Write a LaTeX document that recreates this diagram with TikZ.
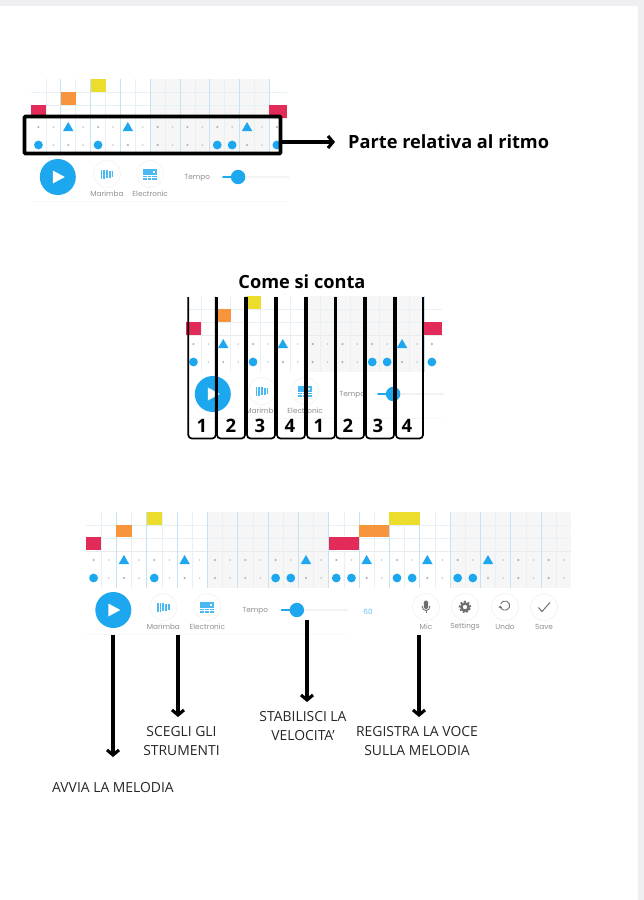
\documentclass[tikz,border=0pt]{standalone}
\usepackage{fontspec}
\setmainfont{Open Sans}
\newfontfamily\appfont{Poppins}
\usetikzlibrary{arrows.meta}
\definecolor{pagegray}{HTML}{EEEEF3}
\definecolor{appblue}{HTML}{1DA7EE}
\definecolor{cellred}{HTML}{E22B59}
\definecolor{cellorange}{HTML}{F7943C}
\definecolor{cellyellow}{HTML}{ECDC2C}
\definecolor{barshade}{HTML}{F6F6F6}
\definecolor{thinline}{HTML}{E6F1F6}
\definecolor{thickline}{HTML}{C5E3F1}
\definecolor{iconcircle}{HTML}{F3F3F3}
\definecolor{labelgray}{HTML}{8E8E8E}
\definecolor{icongray}{HTML}{6F6F6F}
\tikzset{
  applabel/.style={font=\appfont\fontsize{7.3}{8}\selectfont,text=labelgray,inner sep=0pt},
  arrowline/.style={line width=3.1pt,-{Straight Barb[length=5pt,width=12pt,line width=3.1pt]}},
  notetext/.style={font=\fontsize{13.9}{19}\selectfont,text=black!85,inner sep=0pt,align=center},
  boldtext/.style={font=\bfseries\fontsize{18.2}{20}\selectfont,inner sep=0pt},
  countbox/.style={line width=1.7pt,rounded corners=3.5pt},
  countnum/.style={font=\bfseries\fontsize{18.5}{20}\selectfont,inner sep=0pt},
  iconring/.style={draw=iconcircle,fill=white,line width=0.7pt},
}
\newcommand{\rollgrid}[5]{
  \foreach \a/\b in {#3} \fill[barshade] (\a,0) rectangle (\b,76);
  \foreach \r in {13,26} \draw[thinline,line width=0.5pt] (0,\r) -- (#2,\r);
  \draw[black!8,line width=0.5pt] (0,39) -- (#2,39);
  \foreach \c in {1,3,...,#1} \draw[thinline,line width=0.6pt] (\c,0) -- (\c,76);
  \foreach \c in {2,4,...,#1} \draw[thickline,line width=0.7pt] (\c,0) -- (\c,76);
  \foreach \c in {0,2,...,#1} {
    \fill[black!30] (\c+.5,48) circle[radius=1.2pt];
    \fill[black!30] (\c+.5,66) circle[radius=1.2pt];
  }
  \foreach \c in {1,3,...,#1} {
    \fill[black!22] (\c+.5,48) circle[radius=0.9pt];
    \fill[black!22] (\c+.5,66) circle[radius=0.9pt];
  }
  \foreach \c in {#4} \fill[appblue,shift={(\c+.5,48)}] (-5.2pt,-4pt) -- (5.2pt,-4pt) -- (0pt,5pt) -- cycle;
  \foreach \c in {#5} \fill[appblue] (\c+.5,66) circle[radius=4.4pt];
}
\newcommand{\controlbar}{
  \fill[appblue] (1.8,98) circle[radius=18pt];
  \fill[white,shift={(1.8,98)}] (-5pt,-6.5pt) -- (7pt,0pt) -- (-5pt,6.5pt) -- cycle;
  \draw[iconring] (5.1,95) circle[radius=13.5pt];
  \foreach \d/\h in {-5.5/4.5,-2.8/4.5,0/4,2.8/3.5,5.5/3} \fill[appblue!80,shift={(5.1,95)}] (\d pt-0.9pt,-\h pt) rectangle (\d pt+0.9pt,\h pt);
  \draw[iconring] (8,95) circle[radius=13.5pt];
  \fill[appblue!80,shift={(8,95)}] (-7pt,-5.5pt) rectangle (7pt,5.5pt);
  \draw[white,line width=0.6pt,shift={(8,95)}] (-7pt,-1pt) -- (7pt,-1pt) (-7pt,-3pt) -- (7pt,-3pt) (-3pt,-5.5pt) -- (-3pt,-1pt) (1.5pt,-5.5pt) -- (1.5pt,-1pt);
  \fill[white,shift={(8,95)}] (2.5pt,1.5pt) rectangle (5pt,3.5pt);
  \node[applabel] (marimba) at (5.1,114.5) {Marimba};
  \node[applabel] (electronic) at (8,114.5) {Electronic};
  \node[applabel] (tempo) at (11.15,98.5) {Tempo};
  \draw[iconcircle,line width=2pt] (13.9,98) -- (17.3,98);
  \draw[appblue,line width=2.2pt,line cap=round] (12.9,98) -- (13.9,98);
  \fill[appblue] (13.9,98) circle[radius=7.2pt];
  \draw[iconcircle!70,line width=0.5pt] (0,122) -- (17.2,122);
}
\newcommand{\shortwidget}{
  \begin{scope}[x=14.9pt]
    \rollgrid{16}{17.2}{8/16}{2,6,14}{0,4,12,13,16}
    \fill[cellred] (0,26) rectangle (1,39);
    \fill[cellorange] (2,13) rectangle (3,26);
    \fill[cellyellow] (4,0) rectangle (5,13);
    \fill[cellred] (16,26) rectangle (17.2,39);
    \controlbar
  \end{scope}
}
\begin{document}
\begin{tikzpicture}[x=1pt,y=-1pt]
\useasboundingbox (0,0) rectangle (644,900);
\fill[pagegray] (0,0) rectangle (644,6);
\fill[pagegray] (638,0) rectangle (644,900);

\begin{scope}[shift={(31,79)},name prefix=first-]
\shortwidget
\end{scope}
\node[draw,line width=3.6pt,rounded corners=1pt,minimum width=256pt,minimum height=37pt,inner sep=0pt] (ritmo) at (152.5,135) {};
\node[boldtext,anchor=west] (parte) at (348,142) {Parte relativa al ritmo};
\draw[arrowline,shorten >=13pt] (ritmo.east |- parte.west) -- (parte.west);

\node[boldtext] (conta) at (302,282) {Come si conta};
\begin{scope}[shift={(186,296)},name prefix=second-]
\shortwidget
\end{scope}
\draw[countbox] (188.3,297) -- (188.3,438.5) -- (215.7,438.5) -- (215.7,297);
\draw[countbox] (217,297) -- (217,438.5) -- (245,438.5) -- (245,297);
\draw[countbox] (247,297) -- (247,438.5) -- (275,438.5) -- (275,297);
\draw[countbox] (277,297) -- (277,438.5) -- (305,438.5) -- (305,297);
\draw[countbox] (307,297) -- (307,438.5) -- (335,438.5) -- (335,297);
\draw[countbox] (336,297) -- (336,438.5) -- (364,438.5) -- (364,297);
\draw[countbox] (366,297) -- (366,438.5) -- (394,438.5) -- (394,297);
\draw[countbox] (396,297) -- (396,438.5) -- (423,438.5) -- (423,297);
\node[countnum] (one) at (202,426) {1};
\node[countnum] (two) at (231,426) {2};
\node[countnum] (three) at (260,426) {3};
\node[countnum] (four) at (290,426) {4};
\node[countnum] (oneb) at (319,426) {1};
\node[countnum] (twob) at (348,426) {2};
\node[countnum] (threeb) at (378,426) {3};
\node[countnum] (fourb) at (407,426) {4};

\begin{scope}[shift={(86,512)},x=15.17pt,name prefix=third-]
\rollgrid{31}{32}{8/16,24/32}{2,6,14,18,22,26}{0,4,12,13,16,17,20,21,24,25}
\fill[cellred] (0,25) rectangle (1,38);
\fill[cellorange] (2,12.5) rectangle (3,25);
\fill[cellyellow] (4,0) rectangle (5,12.5);
\fill[cellred] (16,25) rectangle (18,38);
\fill[cellorange] (18,12.5) rectangle (20,25);
\fill[cellyellow] (20,0) rectangle (22,12.5);
\controlbar
\end{scope}
\node[applabel,text=appblue!70] (speed) at (368,612) {60};

\draw[iconring] (426,607) circle[radius=13.5pt];
\draw[iconring] (465,607) circle[radius=13.5pt];
\draw[iconring] (505,607) circle[radius=13.5pt];
\draw[iconring] (544,607) circle[radius=13.5pt];
\fill[icongray,rounded corners=1.5pt] (423.8,600.5) rectangle (428.2,609);
\draw[icongray,line width=0.9pt] (422,606) .. controls (422,612) and (430,612) .. (430,606);
\draw[icongray,line width=0.9pt] (426,610.5) -- (426,613);
\draw[icongray,line width=2.4pt] (465,607) circle[radius=3.6pt];
\draw[icongray,line width=1.6pt,dash pattern=on 1.9pt off 1.9pt] (465,607) circle[radius=5.5pt];
\draw[icongray,line width=0.9pt,-{Straight Barb[length=1.5pt,width=3pt]}] (500.6,604) arc[start angle=160,end angle=-180,radius=4.7pt];
\draw[icongray,line width=1pt] (538.5,607.5) -- (542,611.5) -- (550,602.5);
\node[applabel] (mic) at (426,627) {Mic};
\node[applabel] (settings) at (465,627) {Settings};
\node[applabel] (undo) at (505,627) {Undo};
\node[applabel] (save) at (544,627) {Save};

\node[notetext] (avvia) at (113,788) {AVVIA LA MELODIA};
\node[notetext] (scegli) at (181.5,741.5) {SCEGLI GLI\\STRUMENTI};
\node[notetext] (stabilisci) at (303,726.5) {STABILISCI LA\\VELOCITA’};
\node[notetext] (registra) at (417,741.5) {REGISTRA LA VOCE\\SULLA MELODIA};
\coordinate (playstart) at (113,635);
\coordinate (playend) at (113,757);
\coordinate (toolstart) at (178,635);
\coordinate (toolend) at (178,717);
\coordinate (speedstart) at (307,620);
\coordinate (speedend) at (307,702);
\coordinate (micstart) at (419,635);
\coordinate (micend) at (419,717);
\draw[arrowline] (playstart) -- (playend);
\draw[arrowline] (toolstart) -- (toolend);
\draw[arrowline] (speedstart) -- (speedend);
\draw[arrowline] (micstart) -- (micend);
\end{tikzpicture}
\end{document}
